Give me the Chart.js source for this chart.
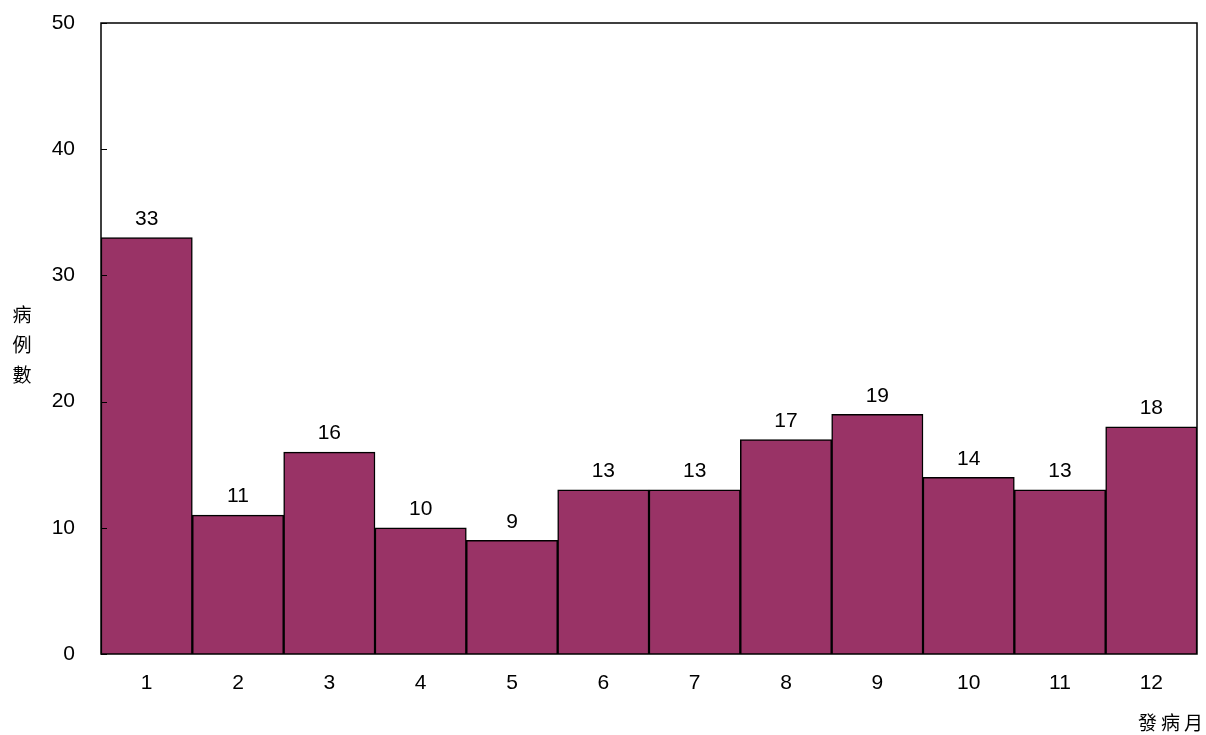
<!DOCTYPE html>
<html>
<head>
<meta charset="utf-8">
<script src="https://cdn.jsdelivr.net/npm/chart.js@4"></script>
<style>
html,body{margin:0;padding:0;background:#fff;}
#wrap{position:relative;width:1206px;height:735px;}
</style>
</head>
<body>
<div id="wrap"><canvas id="c" width="1206" height="735"></canvas></div>
<script>
const months = ['1','2','3','4','5','6','7','8','9','10','11','12'];
const cases = [33, 11, 16, 10, 9, 13, 13, 17, 19, 14, 13, 18];
const yTicks = [0, 10, 20, 30, 40, 50];
const yTitle = ['病', '例', '數'];
const xTitle = '發病月';

const numFont = '"Liberation Sans", Arial, sans-serif';
const cjkFont = '"Noto Sans CJK TC", sans-serif';

const decor = {
  id: 'decor',
  afterDatasetsDraw(chart) {
    const ctx = chart.ctx;
    const a = chart.chartArea;
    const ys = chart.scales.y;
    ctx.save();
    ctx.strokeStyle = '#000';
    ctx.lineWidth = 1.5;
    ctx.strokeRect(a.left, a.top, a.right - a.left, a.bottom - a.top);
    ctx.lineWidth = 1;
    yTicks.forEach(v => {
      const y = Math.round(ys.getPixelForValue(v)) + 0.5;
      ctx.beginPath();
      ctx.moveTo(a.left, y);
      ctx.lineTo(a.left + 6, y);
      ctx.stroke();
    });
    const meta = chart.getDatasetMeta(0);
    ctx.fillStyle = '#000';
    ctx.font = '21px ' + numFont;
    ctx.textAlign = 'center';
    ctx.textBaseline = 'bottom';
    meta.data.forEach((bar, i) => {
      ctx.fillText(String(cases[i]), bar.x, bar.y - 8);
    });
    ctx.font = '19px ' + cjkFont;
    ctx.textBaseline = 'middle';
    yTitle.forEach((ch, i) => {
      ctx.fillText(ch, 22, 315 + i * 30);
    });
    ctx.textAlign = 'right';
    ctx.letterSpacing = '4px';
    ctx.fillText(xTitle, 1207, 723);
    ctx.restore();
  }
};

new Chart(document.getElementById('c'), {
  type: 'bar',
  data: {
    labels: months,
    datasets: [{
      data: cases,
      backgroundColor: '#993366',
      borderColor: '#000',
      borderWidth: 1.5,
      categoryPercentage: 1.0,
      barPercentage: 1.0
    }]
  },
  options: {
    responsive: false,
    animation: false,
    devicePixelRatio: 1,
    layout: { padding: { left: 0, top: 23, right: 9, bottom: 0 } },
    plugins: { legend: { display: false }, tooltip: { enabled: false } },
    scales: {
      x: {
        grid: { display: false, drawTicks: false },
        border: { display: false },
        ticks: { color: '#000', font: { family: numFont, size: 21 }, padding: 17, maxRotation: 0 },
        afterFit(s) { s.height = 81; }
      },
      y: {
        min: 0, max: 50,
        afterBuildTicks(s) { s.ticks = yTicks.map(v => ({ value: v })); },
        grid: { display: false, drawTicks: false },
        border: { display: false },
        ticks: { color: '#000', font: { family: numFont, size: 21 }, padding: 26 },
        afterFit(s) { s.width = 101; s.paddingTop = 0; s.paddingBottom = 0; }
      }
    }
  },
  plugins: [decor]
});
</script>
</body>
</html>
